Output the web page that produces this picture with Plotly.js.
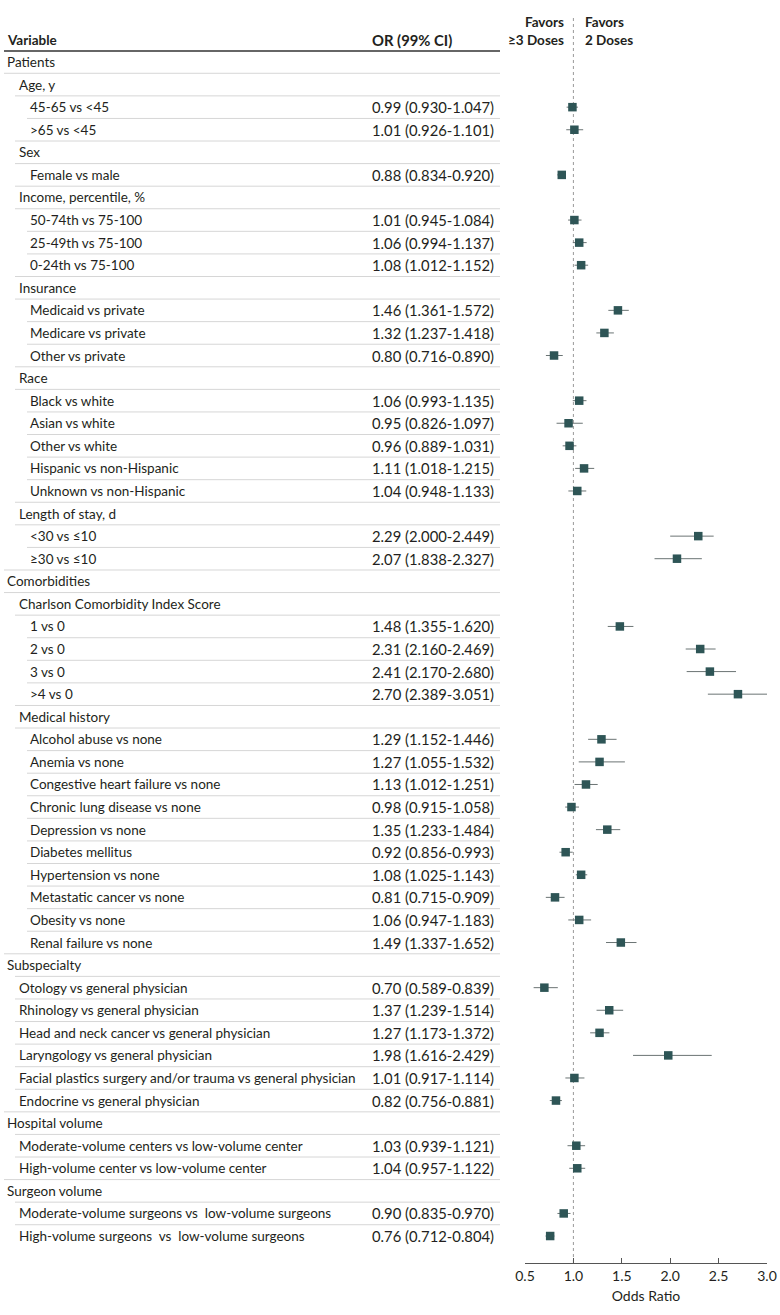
<!DOCTYPE html>
<html>
<head>
<meta charset="utf-8">
<script src="https://cdn.plot.ly/plotly-3.0.1.min.js"></script>
<style>html,body{margin:0;padding:0;background:#fff;}#chart{width:780px;height:1315px;}</style>
</head>
<body>
<div id="chart"></div>
<script>
// ---- data ----
const labels = [
  "Patients", "Age, y", "45-65 vs <45", ">65 vs <45", "Sex", "Female vs male",
  "Income, percentile, %", "50-74th vs 75-100", "25-49th vs 75-100", "0-24th vs 75-100",
  "Insurance", "Medicaid vs private", "Medicare vs private", "Other vs private",
  "Race", "Black vs white", "Asian vs white", "Other vs white", "Hispanic vs non-Hispanic", "Unknown vs non-Hispanic",
  "Length of stay, d", "<30 vs ≤10", "≥30 vs ≤10",
  "Comorbidities", "Charlson Comorbidity Index Score", "1 vs 0", "2 vs 0", "3 vs 0", ">4 vs 0",
  "Medical history", "Alcohol abuse vs none", "Anemia vs none", "Congestive heart failure vs none",
  "Chronic lung disease vs none", "Depression vs none", "Diabetes mellitus", "Hypertension vs none",
  "Metastatic cancer vs none", "Obesity vs none", "Renal failure vs none",
  "Subspecialty", "Otology vs general physician", "Rhinology vs general physician",
  "Head and neck cancer vs general physician", "Laryngology vs general physician",
  "Facial plastics surgery and/or trauma vs general physician", "Endocrine vs general physician",
  "Hospital volume", "Moderate-volume centers vs low-volume center", "High-volume center vs low-volume center",
  "Surgeon volume", "Moderate-volume surgeons vs  low-volume surgeons", "High-volume surgeons  vs  low-volume surgeons"
];
const levels = [
  0, 1, 2, 2, 1, 2,
  1, 2, 2, 2,
  1, 2, 2, 2,
  1, 2, 2, 2, 2, 2,
  1, 2, 2,
  0, 1, 2, 2, 2, 2,
  1, 2, 2, 2, 2, 2, 2, 2, 2, 2, 2,
  0, 1, 1, 1, 1, 1, 1,
  0, 1, 1,
  0, 1, 1
];
const oddsRatio = [
  null, null, 0.99, 1.01, null, 0.88,
  null, 1.01, 1.06, 1.08,
  null, 1.46, 1.32, 0.80,
  null, 1.06, 0.95, 0.96, 1.11, 1.04,
  null, 2.29, 2.07,
  null, null, 1.48, 2.31, 2.41, 2.70,
  null, 1.29, 1.27, 1.13, 0.98, 1.35, 0.92, 1.08, 0.81, 1.06, 1.49,
  null, 0.70, 1.37, 1.27, 1.98, 1.01, 0.82,
  null, 1.03, 1.04,
  null, 0.90, 0.76
];
const ciLower = [
  null, null, 0.930, 0.926, null, 0.834,
  null, 0.945, 0.994, 1.012,
  null, 1.361, 1.237, 0.716,
  null, 0.993, 0.826, 0.889, 1.018, 0.948,
  null, 2.000, 1.838,
  null, null, 1.355, 2.160, 2.170, 2.389,
  null, 1.152, 1.055, 1.012, 0.915, 1.233, 0.856, 1.025, 0.715, 0.947, 1.337,
  null, 0.589, 1.239, 1.173, 1.616, 0.917, 0.756,
  null, 0.939, 0.957,
  null, 0.835, 0.712
];
const ciUpper = [
  null, null, 1.047, 1.101, null, 0.920,
  null, 1.084, 1.137, 1.152,
  null, 1.572, 1.418, 0.890,
  null, 1.135, 1.097, 1.031, 1.215, 1.133,
  null, 2.449, 2.327,
  null, null, 1.620, 2.469, 2.680, 3.051,
  null, 1.446, 1.532, 1.251, 1.058, 1.484, 0.993, 1.143, 0.909, 1.183, 1.652,
  null, 0.839, 1.514, 1.372, 2.429, 1.114, 0.881,
  null, 1.121, 1.122,
  null, 0.970, 0.804
];
const xTicks = [0.5, 1.0, 1.5, 2.0, 2.5, 3.0];

// ---- layout helpers ----
const W = 780, H = 1315;
const textFont = "Lato, 'Open Sans', sans-serif";
const textColor = "#231f20";
const labelSize = 13.5, valueSize = 14.8;
const textX = [5, 16.5, 28];
const lineX = [4, 15, 27];
const orColX = 370;
const tableRight = 500;
const rowIdx = labels.map((_, i) => i);

const px = v => v / W;
const annotations = [];
const shapes = [];

labels.forEach((lab, i) => {
  annotations.push({
    xref: "paper", yref: "y", x: px(textX[levels[i]]), y: i,
    xanchor: "left", yanchor: "middle", showarrow: false,
    text: lab, font: {family: textFont, size: labelSize, color: textColor}
  });
  if (oddsRatio[i] !== null) {
    annotations.push({
      xref: "paper", yref: "y", x: px(orColX), y: i,
      xanchor: "left", yanchor: "middle", showarrow: false,
      text: oddsRatio[i].toFixed(2) + " (" + ciLower[i].toFixed(3) + "-" + ciUpper[i].toFixed(3) + ")",
      font: {family: textFont, size: valueSize, color: textColor}
    });
  }
  if (i < labels.length - 1) {
    let lv = Math.min(levels[i], levels[i + 1]);
    if (levels[i] === 0 && oddsRatio[i + 1] !== null) lv = 1;
    shapes.push({
      type: "line", xref: "paper", yref: "y",
      x0: px(lineX[lv]), x1: px(tableRight), y0: i + 0.5, y1: i + 0.5,
      line: {color: "#d6d6d6", width: 1}
    });
  }
});

// header
annotations.push({xref: "paper", yref: "y", x: px(5), y: -0.97, xanchor: "left", yanchor: "middle",
  showarrow: false, text: "<b>Variable</b>", font: {family: textFont, size: labelSize, color: textColor}});
annotations.push({xref: "paper", yref: "y", x: px(orColX), y: -0.97, xanchor: "left", yanchor: "middle",
  showarrow: false, text: "<b>OR (99% CI)</b>", font: {family: textFont, size: valueSize, color: textColor}});
annotations.push({xref: "paper", yref: "y", x: px(566), y: -1.38, xanchor: "right", yanchor: "middle", align: "right",
  showarrow: false, text: "<b>Favors<br>≥3 Doses</b>", font: {family: textFont, size: labelSize, color: textColor}});
annotations.push({xref: "paper", yref: "y", x: px(583), y: -1.38, xanchor: "left", yanchor: "middle", align: "left",
  showarrow: false, text: "<b>Favors<br>2 Doses</b>", font: {family: textFont, size: labelSize, color: textColor}});
shapes.push({type: "line", xref: "paper", yref: "y", x0: px(4), x1: px(tableRight), y0: -0.49, y1: -0.49,
  line: {color: "#333333", width: 1.5}});
// reference line at OR = 1
shapes.push({type: "line", xref: "x", yref: "paper", x0: 1, x1: 1, y0: 0, y1: 0.998,
  line: {color: "#9a9a9a", width: 1, dash: "dot"}, layer: "below"});

const trace = {
  type: "scatter", mode: "markers",
  x: oddsRatio, y: rowIdx,
  marker: {symbol: "square", size: 8.5, color: "#2e5556"},
  error_x: {type: "data", symmetric: false,
    array: oddsRatio.map((v, i) => v === null ? null : ciUpper[i] - v),
    arrayminus: oddsRatio.map((v, i) => v === null ? null : v - ciLower[i]),
    color: "#6b7474", thickness: 1, width: 0},
  cliponaxis: false, hoverinfo: "skip"
};

const layout = {
  width: W, height: H,
  margin: {l: 0, r: 0, t: 15, b: 52},
  paper_bgcolor: "#fff", plot_bgcolor: "rgba(0,0,0,0)",
  showlegend: false,
  xaxis: {
    domain: [525 / W, 767 / W], range: [0.5, 3.0],
    tickvals: xTicks, ticktext: xTicks.map(v => v.toFixed(1)),
    showline: true, linecolor: "#555", linewidth: 1,
    ticks: "inside", ticklen: 5, tickcolor: "#555",
    showgrid: false, zeroline: false,
    tickfont: {family: textFont, size: 14, color: textColor},
    title: {text: "Odds Ratio", font: {family: textFont, size: 14, color: textColor}, standoff: 8}
  },
  yaxis: {range: [53.195, -2.082], visible: false, showgrid: false, zeroline: false},
  annotations: annotations, shapes: shapes
};

Plotly.newPlot("chart", [trace], layout, {displayModeBar: false, staticPlot: true});
</script>
</body>
</html>
